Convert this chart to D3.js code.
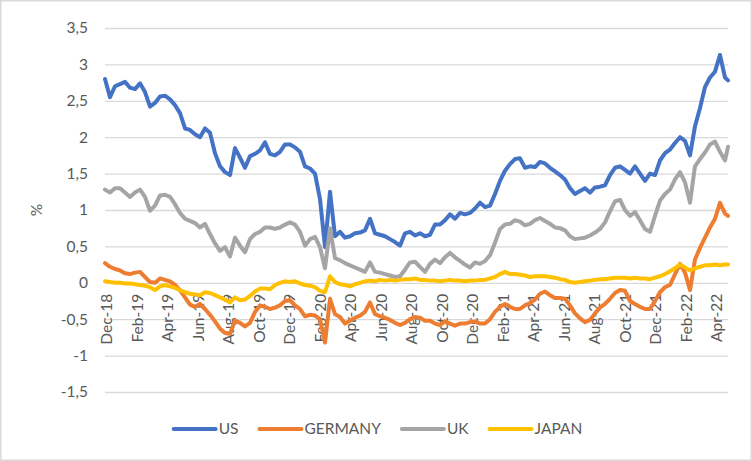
<!DOCTYPE html>
<html><head><meta charset="utf-8">
<script src="https://cdn.jsdelivr.net/npm/d3@7"></script>
<style>html,body{margin:0;padding:0;background:#fff;} svg{display:block;font-family:Lato,"Open Sans",sans-serif;}</style>
</head><body>
<svg id="chart" width="752" height="461"></svg>
<script>
const dates = [
"2018-12-21","2018-12-31","2019-01-10","2019-01-20","2019-01-30","2019-02-09","2019-02-19","2019-03-01","2019-03-11","2019-03-21",
"2019-03-31","2019-04-10","2019-04-20","2019-04-30","2019-05-10","2019-05-20","2019-05-30","2019-06-09","2019-06-19","2019-06-29",
"2019-07-09","2019-07-19","2019-07-29","2019-08-08","2019-08-18","2019-08-28","2019-09-07","2019-09-17","2019-09-27","2019-10-07",
"2019-10-17","2019-10-27","2019-11-06","2019-11-16","2019-11-26","2019-12-06","2019-12-16","2019-12-26","2020-01-05","2020-01-15",
"2020-01-25","2020-02-04","2020-02-14","2020-02-24","2020-03-05","2020-03-15","2020-03-25","2020-04-04","2020-04-14","2020-04-24",
"2020-05-04","2020-05-14","2020-05-24","2020-06-03","2020-06-13","2020-06-23","2020-07-03","2020-07-13","2020-07-23","2020-08-02",
"2020-08-12","2020-08-22","2020-09-01","2020-09-11","2020-09-21","2020-10-01","2020-10-11","2020-10-21","2020-10-31","2020-11-10",
"2020-11-20","2020-11-30","2020-12-10","2020-12-20","2020-12-30","2021-01-09","2021-01-19","2021-01-29","2021-02-08","2021-02-18",
"2021-02-28","2021-03-10","2021-03-20","2021-03-30","2021-04-09","2021-04-19","2021-04-29","2021-05-09","2021-05-19","2021-05-29",
"2021-06-08","2021-06-18","2021-06-28","2021-07-08","2021-07-18","2021-07-28","2021-08-07","2021-08-17","2021-08-27","2021-09-06",
"2021-09-16","2021-09-26","2021-10-06","2021-10-16","2021-10-26","2021-11-05","2021-11-15","2021-11-25","2021-12-05","2021-12-15",
"2021-12-25","2022-01-04","2022-01-14","2022-01-24","2022-02-03","2022-02-13","2022-02-23","2022-03-05","2022-03-15","2022-03-25",
"2022-04-04","2022-04-14","2022-04-24","2022-05-04","2022-05-14","2022-05-20"];

const us = [
2.80,2.55,2.70,2.73,2.76,2.68,2.66,2.74,2.62,2.42,
2.47,2.56,2.57,2.52,2.44,2.33,2.12,2.10,2.04,2.00,
2.12,2.06,1.78,1.60,1.52,1.48,1.85,1.72,1.58,1.74,
1.77,1.82,1.93,1.77,1.75,1.80,1.90,1.90,1.86,1.80,
1.60,1.57,1.50,1.15,0.49,1.25,0.64,0.70,0.62,0.64,
0.68,0.69,0.72,0.88,0.68,0.66,0.64,0.60,0.56,0.51,
0.68,0.70,0.65,0.68,0.64,0.66,0.80,0.80,0.86,0.94,
0.88,0.96,0.94,0.96,1.02,1.10,1.04,1.06,1.22,1.40,
1.54,1.63,1.70,1.71,1.58,1.60,1.59,1.66,1.64,1.58,
1.53,1.48,1.42,1.30,1.22,1.26,1.30,1.24,1.31,1.32,
1.34,1.48,1.58,1.60,1.55,1.50,1.60,1.50,1.40,1.50,
1.48,1.68,1.78,1.83,1.92,2.00,1.95,1.75,2.15,2.40,
2.69,2.82,2.90,3.13,2.82,2.78];

const germany = [
0.27,0.22,0.19,0.17,0.13,0.12,0.14,0.15,0.08,0.01,
0.00,0.06,0.04,0.02,-0.03,-0.10,-0.20,-0.30,-0.33,-0.29,
-0.36,-0.44,-0.53,-0.63,-0.69,-0.70,-0.52,-0.55,-0.60,-0.55,
-0.40,-0.31,-0.33,-0.36,-0.34,-0.31,-0.25,-0.24,-0.31,-0.36,
-0.46,-0.44,-0.45,-0.50,-0.82,-0.22,-0.43,-0.47,-0.56,-0.52,
-0.48,-0.45,-0.40,-0.27,-0.43,-0.46,-0.48,-0.51,-0.55,-0.58,
-0.55,-0.50,-0.47,-0.48,-0.52,-0.52,-0.56,-0.58,-0.53,-0.56,
-0.59,-0.56,-0.56,-0.54,-0.53,-0.56,-0.56,-0.50,-0.40,-0.33,
-0.29,-0.33,-0.36,-0.36,-0.31,-0.28,-0.23,-0.15,-0.12,-0.17,
-0.21,-0.21,-0.22,-0.31,-0.42,-0.49,-0.54,-0.51,-0.42,-0.34,
-0.29,-0.22,-0.14,-0.10,-0.11,-0.25,-0.29,-0.33,-0.36,-0.36,
-0.25,-0.13,-0.06,-0.03,0.12,0.26,0.14,-0.10,0.32,0.48,
0.62,0.76,0.88,1.10,0.95,0.92];

const uk = [
1.28,1.24,1.30,1.30,1.24,1.18,1.24,1.28,1.18,0.99,
1.06,1.20,1.21,1.18,1.08,0.96,0.88,0.85,0.82,0.76,
0.81,0.67,0.54,0.44,0.49,0.36,0.62,0.51,0.42,0.60,
0.67,0.70,0.76,0.76,0.74,0.76,0.80,0.83,0.80,0.70,
0.51,0.60,0.63,0.49,0.20,0.75,0.34,0.31,0.27,0.24,
0.21,0.18,0.15,0.28,0.15,0.14,0.12,0.10,0.08,0.09,
0.18,0.28,0.29,0.22,0.15,0.26,0.32,0.27,0.35,0.41,
0.35,0.30,0.25,0.21,0.28,0.26,0.30,0.38,0.55,0.74,
0.80,0.81,0.86,0.84,0.79,0.81,0.86,0.89,0.85,0.81,
0.76,0.75,0.72,0.64,0.60,0.61,0.62,0.65,0.69,0.74,
0.83,0.98,1.12,1.14,1.00,0.92,0.97,0.86,0.74,0.70,
0.92,1.13,1.22,1.28,1.42,1.52,1.38,1.10,1.60,1.70,
1.79,1.90,1.94,1.80,1.68,1.87];

const japan = [
0.02,0.01,0.00,0.00,-0.01,-0.01,-0.02,-0.03,-0.04,-0.06,
-0.10,-0.05,-0.03,-0.05,-0.07,-0.10,-0.13,-0.15,-0.16,-0.17,
-0.13,-0.14,-0.17,-0.20,-0.23,-0.27,-0.20,-0.24,-0.23,-0.18,
-0.12,-0.08,-0.08,-0.09,-0.03,0.00,0.02,0.01,0.02,-0.01,
-0.03,-0.04,-0.06,-0.11,-0.13,0.09,0.01,-0.02,-0.03,-0.05,
-0.02,0.00,0.02,0.03,0.02,0.04,0.03,0.04,0.03,0.04,
0.05,0.05,0.06,0.04,0.04,0.03,0.03,0.02,0.03,0.04,
0.03,0.03,0.02,0.03,0.03,0.04,0.04,0.06,0.08,0.12,
0.15,0.12,0.12,0.11,0.10,0.08,0.09,0.09,0.09,0.08,
0.07,0.05,0.04,0.01,0.00,0.01,0.02,0.03,0.04,0.05,
0.05,0.06,0.07,0.07,0.07,0.06,0.07,0.06,0.06,0.05,
0.07,0.09,0.12,0.16,0.20,0.25,0.21,0.17,0.20,0.22,
0.24,0.24,0.25,0.24,0.25,0.25];

const seriesNames = ["US","GERMANY","UK","JAPAN"];
const seriesColors = ["#4472C4","#ED7D31","#A5A5A5","#FFC000"];
const yTickValues = [-1.5,-1,-0.5,0,0.5,1,1.5,2,2.5,3,3.5];
const yTickLabels = ["-1,5","-1","-0,5","0","0,5","1","1,5","2","2,5","3","3,5"];
const xTickDates = ["2018-12-25","2019-02-24","2019-04-26","2019-06-26","2019-08-26","2019-10-26","2019-12-26",
"2020-02-25","2020-04-26","2020-06-26","2020-08-26","2020-10-26","2020-12-26","2021-02-25","2021-04-27",
"2021-06-27","2021-08-27","2021-10-27","2021-12-27","2022-02-26","2022-04-28"];
const xTickLabels = ["Dec-18","Feb-19","Apr-19","Jun-19","Aug-19","Oct-19","Dec-19","Feb-20","Apr-20","Jun-20",
"Aug-20","Oct-20","Dec-20","Feb-21","Apr-21","Jun-21","Aug-21","Oct-21","Dec-21","Feb-22","Apr-22"];
const yAxisTitle = "%";

const parse = d3.timeParse("%Y-%m-%d");
const dateObjs = dates.map(parse);
const seriesValues = [us, germany, uk, japan];

const W = 752, H = 461;
const plot = {left:105, right:728, top:28, bottom:392};
const textColor = "#595959", gridColor = "#D9D9D9", fontSize = 15.5;

const svg = d3.select("#chart");
svg.append("rect").attr("x",0.75).attr("y",0.75).attr("width",W-1.5).attr("height",H-1.5)
  .attr("fill","#fff").attr("stroke","#D9D9D9").attr("stroke-width",1.5);

const x = d3.scaleTime().domain([dateObjs[0], dateObjs[dateObjs.length-1]]).range([plot.left, plot.right]);
const y = d3.scaleLinear().domain([-1.5, 3.5]).range([plot.bottom, plot.top]);

const yAxis = d3.axisLeft(y).tickValues(yTickValues).tickSize(-(plot.right-plot.left)).tickPadding(17)
  .tickFormat((d,i)=>yTickLabels[i]);
const gy = svg.append("g").attr("transform",`translate(${plot.left},0)`).call(yAxis);
gy.select(".domain").remove();
gy.selectAll(".tick line").attr("stroke",gridColor).attr("stroke-width",1.3);
gy.selectAll(".tick text").attr("fill",textColor).attr("font-size",fontSize).attr("font-family","Lato");

svg.append("text").text(yAxisTitle).attr("transform",`translate(42,${(plot.top+plot.bottom)/2}) rotate(-90)`)
  .attr("text-anchor","middle").attr("fill",textColor).attr("font-size",fontSize).attr("font-family","Lato");

const y0 = y(0);
const xg = svg.append("g");
xg.selectAll("text").data(xTickDates).join("text")
  .attr("transform", d => `translate(${x(parse(d))},${y0+11}) rotate(-90)`)
  .attr("text-anchor","end").attr("dy","0.35em")
  .attr("fill",textColor).attr("font-size",fontSize).attr("font-family","Lato")
  .text((d,i)=>xTickLabels[i]);

const line = d3.line().x((d,i)=>x(dateObjs[i])).y(d=>y(d));
const lg = svg.append("g");
seriesValues.forEach((vals, s) => {
  lg.append("path").datum(vals).attr("d", line).attr("fill","none")
    .attr("stroke", seriesColors[s]).attr("stroke-width",4)
    .attr("stroke-linejoin","round").attr("stroke-linecap","round");
});

const legY = 429, lineLen = 42, gapLT = 3, gapItem = 21;
const leg = svg.append("g");
const items = seriesNames.map((n,i)=>{
  const g = leg.append("g");
  g.append("line").attr("x1",0).attr("x2",lineLen).attr("y1",0).attr("y2",0)
    .attr("stroke",seriesColors[i]).attr("stroke-width",4).attr("stroke-linecap","round");
  const t = g.append("text").text(n).attr("x",lineLen+gapLT).attr("dy","0.35em")
    .attr("fill",textColor).attr("font-size",fontSize).attr("font-family","Lato");
  return {g, w: lineLen+gapLT+t.node().getComputedTextLength()};
});
const total = d3.sum(items, d=>d.w) + gapItem*(items.length-1);
let cx = 378 - total/2;
items.forEach(it=>{ it.g.attr("transform",`translate(${cx},${legY})`); cx += it.w + gapItem; });
</script>
</body></html>
